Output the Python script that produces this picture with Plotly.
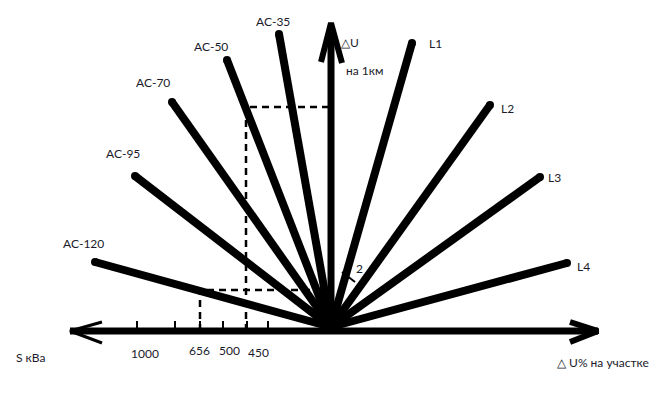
import plotly.graph_objects as go

# Nomogram drawn in page-pixel coordinates (x to the right, y downward)
origin = (331, 327)

ray_names = ["AC-35", "AC-50", "AC-70", "AC-95", "AC-120", "L1", "L2", "L3", "L4"]
ray_end_x = [279, 227, 172, 135, 95, 412, 490, 540, 567]
ray_end_y = [34, 60, 102, 176, 262, 43, 105, 177, 263]
label_x = [273, 211, 153, 123, 83, 435, 507, 554, 583]
label_y = [21, 46, 82, 153, 243, 43, 108, 177, 266]

axis_y = 331
axis_left, axis_right = 70, 598
vaxis_x, vaxis_top = 331, 23

tick_x = [137, 175, 200, 223, 247, 268]
tick_labels = ["1000", "656", "500", "450"]
tick_label_x = [145, 199, 229, 258]
tick_label_y = [353, 350, 350, 352]

guide_x = [246, 200]
guide_y = [107, 290]

fig = go.Figure()
black = "#000000"

# rays
for nm, ex, ey in zip(ray_names, ray_end_x, ray_end_y):
    fig.add_trace(go.Scatter(x=[origin[0], ex], y=[origin[1], ey], mode="lines",
                             line=dict(color=black, width=8), hoverinfo="skip"))
    fig.add_trace(go.Scatter(x=[ex], y=[ey], mode="markers",
                             marker=dict(color=black, size=8), hoverinfo="skip"))

# dashed guides
for gx, gy in zip(guide_x, guide_y):
    fig.add_trace(go.Scatter(x=[gx, gx, vaxis_x], y=[axis_y, gy, gy], mode="lines",
                             line=dict(color=black, width=2.5, dash="7px,5px"), hoverinfo="skip"))

# horizontal axis
fig.add_trace(go.Scatter(x=[axis_left, axis_right], y=[axis_y, axis_y], mode="lines",
                         line=dict(color=black, width=7), hoverinfo="skip"))
# left arrow (thin barbs)
fig.add_trace(go.Scatter(x=[102, axis_left, 102], y=[322, axis_y, 343], mode="lines",
                         line=dict(color=black, width=3), hoverinfo="skip"))
# right arrow (thick barbs)
fig.add_trace(go.Scatter(x=[570, axis_right, 570], y=[322, axis_y, 342], mode="lines",
                         line=dict(color=black, width=6), hoverinfo="skip"))
# vertical axis
fig.add_trace(go.Scatter(x=[vaxis_x, vaxis_x], y=[axis_y, vaxis_top + 4], mode="lines",
                         line=dict(color=black, width=7), hoverinfo="skip"))
fig.add_trace(go.Scatter(x=[321, vaxis_x, 342], y=[62, vaxis_top, 63], mode="lines",
                         line=dict(color=black, width=6), hoverinfo="skip"))

# ticks
for tx in tick_x:
    fig.add_trace(go.Scatter(x=[tx, tx], y=[axis_y, 321], mode="lines",
                             line=dict(color=black, width=2), hoverinfo="skip"))

# small mark near "2"
fig.add_trace(go.Scatter(x=[342, 355], y=[272, 282], mode="lines",
                         line=dict(color=black, width=2), hoverinfo="skip"))

font = dict(family="Lato, Open Sans, sans-serif", size=12, color="#1a1a2a")
ann = []
for nm, lx, ly in zip(ray_names, label_x, label_y):
    ann.append(dict(x=lx, y=ly, text=nm, showarrow=False, font=font))
for t, lx, ly in zip(tick_labels, tick_label_x, tick_label_y):
    ann.append(dict(x=lx, y=ly, text=t, showarrow=False, font=font))
ann += [
    dict(x=350, y=42, text="\u25b3U", showarrow=False, font=font),
    dict(x=364, y=70, text="на 1км", showarrow=False, font=font),
    dict(x=359, y=268, text="2", showarrow=False, font=font),
    dict(x=30, y=357, text="S кВа", showarrow=False, font=font),
    dict(x=603, y=362, text="\u25b3 U% на участке", showarrow=False, font=font),
]

# page body has an 8px margin: shrink the figure and offset the ranges so
# data units equal window pixels
fig.update_layout(
    width=658, height=389, margin=dict(l=0, r=0, t=0, b=0),
    paper_bgcolor="white", plot_bgcolor="white", showlegend=False,
    xaxis=dict(range=[8, 666], visible=False, fixedrange=True),
    yaxis=dict(range=[397, 8], visible=False, fixedrange=True),
    annotations=ann,
)
fig.write_html("out.html")
